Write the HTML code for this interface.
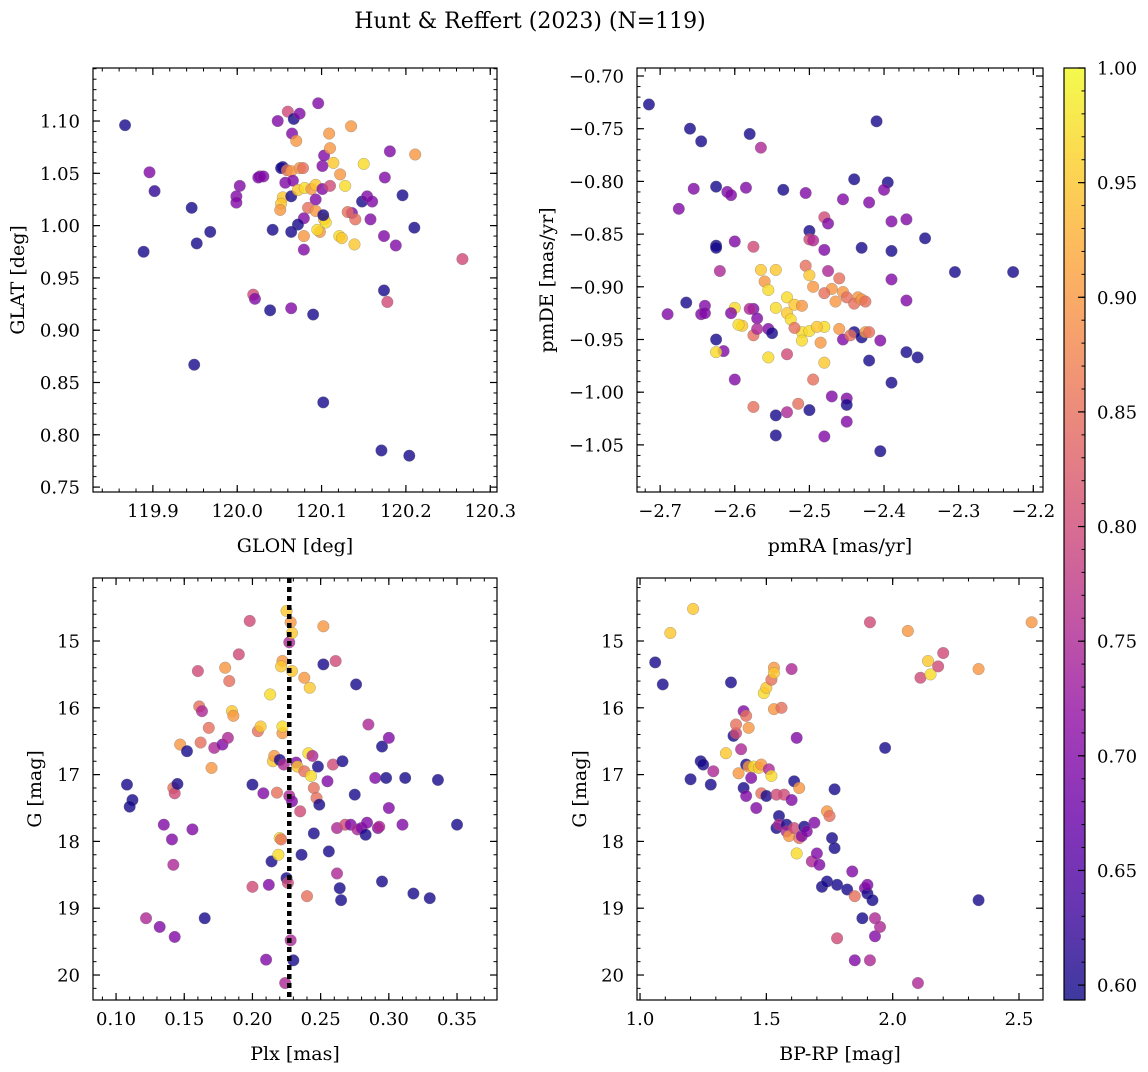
<!DOCTYPE html>
<html><head><meta charset="utf-8"><style>
body{margin:0;background:#fff;}
svg text{font-family:"DejaVu Serif","Liberation Serif",serif;fill:#000;}
</style></head><body>
<svg id="fig" width="1148" height="1067" viewBox="0 0 1148 1067" xmlns="http://www.w3.org/2000/svg">
<defs><linearGradient id="cbg" x1="0" y1="1" x2="0" y2="0">
<stop offset="0" stop-color="#0d0887"/><stop offset="0.1" stop-color="#41049d"/><stop offset="0.2" stop-color="#6a00a8"/><stop offset="0.3" stop-color="#8f0da4"/><stop offset="0.4" stop-color="#b12a90"/><stop offset="0.5" stop-color="#cc4778"/><stop offset="0.6" stop-color="#e16462"/><stop offset="0.7" stop-color="#f2844b"/><stop offset="0.8" stop-color="#fca636"/><stop offset="0.9" stop-color="#fcce25"/><stop offset="1" stop-color="#f0f921"/></linearGradient></defs>
<text x="530" y="28" font-size="22" text-anchor="middle">Hunt &amp; Reffert (2023) (N=119)</text>
</svg>
<script>
// ---- Panel 1: GLON / GLAT ----
const glon=[119.867,119.896,119.902,119.889,119.946,119.952,119.968,119.949,120.003,119.999,119.999,120.027,120.048,120.060,120.067,120.065,120.074,120.096,120.070,120.054,120.052,120.059,120.064,120.074,120.078,120.057,120.066,120.054,120.052,120.051,120.064,120.072,120.080,120.088,120.093,120.101,120.110,120.093,120.084,120.093,120.103,120.105,120.102,120.098,120.095,120.079,120.079,120.072,120.079,120.064,120.042,120.101,120.103,120.110,120.109,120.114,120.122,120.128,120.135,120.150,120.136,120.131,120.140,120.121,120.124,120.139,120.148,120.154,120.160,120.158,120.175,120.181,120.174,120.188,120.196,120.210,120.211,120.174,120.178,120.019,120.021,120.039,120.064,120.090,120.102,120.171,120.204,120.267,120.025,120.031];
const glat=[1.096,1.051,1.033,0.975,1.017,0.983,0.994,0.867,1.038,1.028,1.022,1.047,1.100,1.109,1.102,1.088,1.107,1.117,1.081,1.056,1.055,1.053,1.052,1.055,1.055,1.041,1.043,1.027,1.021,1.015,1.028,1.034,1.036,1.035,1.039,1.035,1.038,1.025,1.017,1.014,1.006,1.003,1.010,0.994,0.996,1.007,0.990,1.001,0.977,0.994,0.996,1.057,1.067,1.074,1.088,1.060,1.049,1.038,1.095,1.059,1.012,1.013,1.006,0.990,0.988,0.982,1.023,1.028,1.023,1.006,1.046,1.071,0.990,0.981,1.029,0.998,1.068,0.938,0.927,0.934,0.930,0.919,0.921,0.915,0.831,0.785,0.780,0.968,1.046,1.047];
const prob1=[.6,.7,.62,.6,.6,.6,.6,.6,.7,.7,.7,.7,.7,.8,.6,.7,.7,.7,.9,.6,.6,.85,.9,.9,.85,.7,.7,.95,.95,.9,.6,.95,.97,.9,.95,.7,.8,.7,.85,.9,.95,.97,.6,.9,.97,.7,.9,.6,.7,.6,.6,.7,.7,.9,.9,.95,.9,.97,.9,.97,.7,.85,.85,.97,.95,.95,.6,.7,.7,.7,.7,.7,.7,.7,.6,.6,.9,.6,.8,.8,.7,.6,.7,.6,.6,.6,.6,.8,.7,.7];
// ---- Panel 2: pmRA / pmDE ----
const pmra=[-2.715,-2.66,-2.645,-2.58,-2.565,-2.535,-2.655,-2.675,-2.625,-2.61,-2.605,-2.585,-2.41,-2.395,-2.40,-2.44,-2.42,-2.505,-2.455,-2.48,-2.475,-2.50,-2.50,-2.495,-2.60,-2.625,-2.625,-2.575,-2.48,-2.43,-2.39,-2.37,-2.39,-2.345,-2.305,-2.227,-2.62,-2.565,-2.545,-2.56,-2.555,-2.505,-2.50,-2.495,-2.475,-2.46,-2.47,-2.455,-2.45,-2.435,-2.44,-2.465,-2.48,-2.39,-2.53,-2.52,-2.51,-2.545,-2.53,-2.525,-2.60,-2.575,-2.58,-2.57,-2.59,-2.595,-2.605,-2.645,-2.665,-2.64,-2.64,-2.69,-2.625,-2.615,-2.625,-2.60,-2.575,-2.57,-2.555,-2.55,-2.51,-2.50,-2.51,-2.485,-2.48,-2.46,-2.44,-2.455,-2.445,-2.43,-2.425,-2.52,-2.49,-2.48,-2.495,-2.555,-2.53,-2.575,-2.515,-2.50,-2.53,-2.545,-2.47,-2.45,-2.45,-2.45,-2.48,-2.545,-2.405,-2.42,-2.39,-2.37,-2.355,-2.37,-2.405,-2.43,-2.425,-2.42];
const pmde=[-0.727,-0.750,-0.762,-0.755,-0.768,-0.808,-0.807,-0.826,-0.805,-0.810,-0.813,-0.806,-0.743,-0.801,-0.808,-0.798,-0.820,-0.811,-0.817,-0.834,-0.840,-0.847,-0.855,-0.856,-0.857,-0.861,-0.863,-0.862,-0.865,-0.863,-0.866,-0.836,-0.838,-0.854,-0.886,-0.886,-0.885,-0.884,-0.884,-0.895,-0.903,-0.880,-0.889,-0.900,-0.885,-0.892,-0.902,-0.905,-0.910,-0.910,-0.916,-0.914,-0.906,-0.893,-0.910,-0.917,-0.918,-0.920,-0.925,-0.931,-0.920,-0.921,-0.921,-0.930,-0.937,-0.936,-0.925,-0.926,-0.915,-0.918,-0.925,-0.926,-0.950,-0.961,-0.962,-0.988,-0.946,-0.940,-0.940,-0.944,-0.943,-0.942,-0.951,-0.953,-0.938,-0.940,-0.943,-0.950,-0.946,-0.948,-0.943,-0.939,-0.938,-0.972,-0.988,-0.967,-0.964,-1.014,-1.011,-1.017,-1.019,-1.022,-1.004,-1.006,-1.012,-1.028,-1.042,-1.041,-1.056,-0.970,-0.991,-0.962,-0.967,-0.913,-0.951,-0.912,-0.914,-0.943];
const prob2=[.6,.6,.6,.6,.75,.6,.7,.7,.6,.7,.7,.7,.6,.6,.7,.6,.7,.7,.7,.8,.7,.6,.8,.75,.7,.6,.6,.8,.7,.6,.6,.7,.7,.6,.6,.6,.75,.95,.95,.9,.97,.85,.95,.9,.75,.85,.9,.9,.85,.9,.85,.9,.85,.7,.97,.95,.9,.97,.95,.97,.97,.7,.75,.7,.95,.97,.7,.7,.6,.7,.7,.7,.6,.7,.97,.7,.85,.75,.7,.6,.97,.97,.97,.9,.97,.9,.6,.7,.85,.6,.9,.85,.95,.95,.85,.97,.8,.85,.85,.6,.75,.6,.7,.7,.6,.7,.7,.6,.6,.6,.6,.6,.6,.7,.7,.9,.85,.85];
// ---- Panel 3: Plx / G ----
const plx=[0.108,0.112,0.110,0.122,0.132,0.135,0.141,0.142,0.143,0.142,0.143,0.145,0.147,0.152,0.156,0.160,0.161,0.162,0.163,0.165,0.168,0.170,0.172,0.178,0.180,0.182,0.183,0.185,0.186,0.190,0.198,0.200,0.200,0.204,0.206,0.208,0.210,0.212,0.213,0.214,0.215,0.216,0.218,0.219,0.220,0.220,0.221,0.222,0.223,0.222,0.221,0.222,0.224,0.225,0.225,0.226,0.227,0.227,0.228,0.229,0.229,0.229,0.228,0.230,0.232,0.233,0.235,0.236,0.238,0.238,0.240,0.241,0.242,0.243,0.245,0.245,0.244,0.247,0.248,0.249,0.252,0.252,0.255,0.256,0.259,0.261,0.262,0.262,0.264,0.265,0.266,0.268,0.272,0.275,0.276,0.277,0.280,0.283,0.284,0.285,0.290,0.292,0.293,0.295,0.295,0.298,0.300,0.300,0.310,0.312,0.318,0.330,0.336,0.350];
const gmag3=[17.15,17.38,17.48,19.15,19.28,17.75,17.97,18.35,19.43,17.20,17.28,17.14,16.55,16.65,17.82,15.45,15.98,16.52,16.05,19.15,16.30,16.90,16.60,16.55,15.40,16.45,15.60,16.05,16.12,15.20,14.70,17.15,18.68,16.35,16.28,17.28,19.77,18.65,15.80,18.30,16.80,16.72,17.27,18.20,16.78,17.95,17.97,16.38,16.85,15.30,15.38,16.28,20.12,18.55,14.55,18.62,15.02,17.32,14.72,14.88,17.40,15.45,19.48,19.78,16.82,16.88,17.55,18.20,15.55,16.95,18.82,16.68,15.70,17.02,17.20,17.88,16.72,17.35,16.88,17.45,14.78,15.35,17.10,18.15,16.85,15.30,18.48,17.80,18.70,18.88,16.80,17.75,17.75,17.30,15.65,17.82,17.80,17.90,17.72,16.25,17.05,17.80,17.78,16.58,18.60,17.05,16.45,17.50,17.75,17.05,18.78,18.85,17.08,17.75];
const prob3=[.6,.6,.6,.75,.7,.7,.7,.75,.7,.85,.8,.6,.9,.6,.7,.8,.85,.85,.75,.6,.85,.9,.75,.7,.9,.75,.85,.95,.9,.8,.8,.6,.8,.85,.95,.7,.7,.7,.97,.6,.95,.9,.85,.97,.6,.97,.85,.9,.75,.9,.95,.97,.75,.6,.95,.8,.75,.75,.9,.95,.7,.95,.75,.6,.7,.95,.8,.6,.9,.85,.85,.97,.95,.97,.85,.6,.75,.85,.6,.6,.9,.6,.7,.6,.8,.8,.75,.75,.6,.6,.6,.8,.7,.6,.6,.75,.7,.6,.7,.75,.7,.7,.75,.6,.6,.6,.7,.7,.7,.6,.6,.6,.6,.6];
const plxLine=[0.227];
// ---- Panel 4: BP-RP / G ----
const bprp=[1.06,1.09,1.12,1.21,1.20,1.24,1.25,1.28,1.29,1.34,1.36,1.37,1.38,1.38,1.39,1.40,1.41,1.42,1.42,1.41,1.42,1.43,1.43,1.44,1.45,1.46,1.47,1.48,1.48,1.49,1.50,1.51,1.52,1.50,1.52,1.53,1.53,1.53,1.54,1.54,1.55,1.55,1.56,1.57,1.58,1.58,1.59,1.60,1.60,1.61,1.61,1.62,1.62,1.63,1.63,1.64,1.65,1.66,1.68,1.69,1.70,1.71,1.72,1.74,1.74,1.75,1.76,1.77,1.77,1.78,1.78,1.82,1.84,1.85,1.85,1.88,1.89,1.90,1.90,1.91,1.91,1.92,1.93,1.93,1.95,1.97,2.06,2.10,2.11,2.14,2.15,2.18,2.20,2.34,2.34,2.55];
const gmag4=[15.32,15.65,14.88,14.52,17.07,16.80,16.85,17.15,16.95,16.68,15.62,16.42,16.38,16.25,16.98,16.62,16.05,16.12,16.85,17.20,17.32,16.88,16.30,17.05,16.88,17.50,16.90,16.85,17.28,15.78,15.70,16.92,17.02,17.32,15.58,15.40,15.48,16.02,17.30,17.80,17.62,17.75,16.00,17.30,17.75,17.85,17.92,17.38,15.42,17.10,17.80,16.45,18.18,17.95,17.20,17.92,17.78,17.85,18.30,17.72,18.18,18.35,18.68,18.60,17.55,17.62,17.95,18.10,17.22,18.65,19.45,18.72,18.45,18.82,19.78,19.15,18.70,18.78,18.65,14.72,19.78,18.88,19.15,19.42,19.28,16.60,14.85,20.12,15.55,15.30,15.50,15.38,15.18,18.88,15.42,14.72];
const prob4=[.6,.6,.95,.95,.6,.6,.6,.6,.75,.95,.6,.6,.8,.85,.9,.75,.7,.85,.6,.6,.7,.9,.9,.7,.97,.7,.95,.9,.85,.97,.95,.75,.97,.6,.85,.9,.95,.9,.8,.6,.6,.75,.85,.8,.6,.75,.9,.7,.75,.6,.8,.7,.97,.85,.9,.7,.6,.7,.75,.7,.7,.7,.6,.6,.9,.85,.6,.6,.6,.6,.8,.6,.7,.85,.7,.6,.7,.6,.7,.8,.75,.6,.75,.7,.75,.6,.9,.75,.8,.95,.97,.8,.8,.6,.9,.9];
// ---- Colorbar ----
const cbTicks=[0.60,0.65,0.70,0.75,0.80,0.85,0.90,0.95,1.00];
const cbMin=0.5935, cbMax=1.0;

const NS="http://www.w3.org/2000/svg";
const svg=document.getElementById('fig');
function mk(tag,attrs,parent){const e=document.createElementNS(NS,tag);for(const k in attrs)e.setAttribute(k,attrs[k]);(parent||svg).appendChild(e);return e;}
const stops=[[13,8,135],[65,4,157],[106,0,168],[143,13,164],[177,42,144],[204,71,120],[225,100,98],[242,132,75],[252,166,54],[252,206,37],[240,249,33]];
function plasma(v){let t=(v-cbMin)/(cbMax-cbMin);t=Math.max(0,Math.min(1,t))*10;const i=Math.min(9,Math.floor(t)),f=t-i;const a=stops[i],b=stops[i+1];return 'rgb('+[0,1,2].map(j=>Math.round(a[j]+(b[j]-a[j])*f)).join(',')+')';}

const TF=18, LF=19;
function panel(c){
  const g=mk('g',{});
  
  
  const sx=v=>c.x0+(v-c.xmin)/(c.xmax-c.xmin)*(c.x1-c.x0);
  const sy=v=>c.y0+(v-c.ytop)/(c.ybot-c.ytop)*(c.y1-c.y0);
  const pg=mk('g',{},g);
  
  
  for(let i=0;i<c.xs.length;i++){
    const p=mk('circle',{cx:sx(c.xs[i]),cy:sy(c.ys[i]),r:5.8,fill:plasma(c.cs[i]),'fill-opacity':0.8,stroke:'#777','stroke-opacity':0.6,'stroke-width':0.5},pg);
    
    
  }
  if(c.vline){for(const v of c.vline){const l=mk('line',{x1:sx(v),x2:sx(v),y1:c.y0,y2:c.y1,stroke:'#000','stroke-width':4.5,'stroke-dasharray':'5 4'},g);
    
    }}
  const fr=mk('rect',{x:c.x0,y:c.y0,width:c.x1-c.x0,height:c.y1-c.y0,fill:'none',stroke:'#000','stroke-width':1.2},g);
  
  
  const xlo=Math.min(c.xmin,c.xmax),xhi=Math.max(c.xmin,c.xmax);
  for(let v=Math.ceil(xlo/c.xminor-1e-6)*c.xminor;v<=xhi+1e-9;v+=c.xminor){const x=sx(v);
    mk('line',{x1:x,x2:x,y1:c.y1,y2:c.y1-3.5,stroke:'#000','stroke-width':1},g);mk('line',{x1:x,x2:x,y1:c.y0,y2:c.y0+3.5,stroke:'#000','stroke-width':1},g);}
  const ylo=Math.min(c.ytop,c.ybot),yhi=Math.max(c.ytop,c.ybot);
  for(let v=Math.ceil(ylo/c.yminor-1e-6)*c.yminor;v<=yhi+1e-9;v+=c.yminor){const y=sy(v);
    mk('line',{x1:c.x0,x2:c.x0+3.5,y1:y,y2:y,stroke:'#000','stroke-width':1},g);mk('line',{x1:c.x1,x2:c.x1-3.5,y1:y,y2:y,stroke:'#000','stroke-width':1},g);}
  c.xticks.forEach((v,i)=>{const x=sx(v);
    mk('line',{x1:x,x2:x,y1:c.y1,y2:c.y1-7,stroke:'#000','stroke-width':1.2},g);mk('line',{x1:x,x2:x,y1:c.y0,y2:c.y0+7,stroke:'#000','stroke-width':1.2},g);
    const t=mk('text',{x:x,y:c.y1+25,'font-size':TF,'text-anchor':'middle'},g);t.textContent=c.xlabels[i];
    
    });
  c.yticks.forEach((v,i)=>{const y=sy(v);
    mk('line',{x1:c.x0,x2:c.x0+7,y1:y,y2:y,stroke:'#000','stroke-width':1.2},g);mk('line',{x1:c.x1,x2:c.x1-7,y1:y,y2:y,stroke:'#000','stroke-width':1.2},g);
    const t=mk('text',{x:c.x0-13,y:y+6.5,'font-size':TF,'text-anchor':'end'},g);t.textContent=c.ylabels[i];
    
    });
  const xl=mk('text',{x:(c.x0+c.x1)/2,y:c.y1+60,'font-size':LF,'text-anchor':'middle'},g);xl.textContent=c.xlabel;
  
  
  const yx=c.ylabx,yy=(c.y0+c.y1)/2;
  const yl=mk('text',{x:yx,y:yy,'font-size':LF,'text-anchor':'middle',transform:'rotate(-90 '+yx+' '+yy+')'},g);yl.textContent=c.ylabel;
  
  
}
panel({name:'glon-glat-panel',x0:93,x1:497,y0:68,y1:492,xmin:119.829,xmax:120.308,ytop:1.1507,ybot:0.7453,xs:glon,ys:glat,cs:prob1,
  xticks:[119.9,120.0,120.1,120.2,120.3],xlabels:['119.9','120.0','120.1','120.2','120.3'],xminor:0.02,
  yticks:[0.75,0.80,0.85,0.90,0.95,1.00,1.05,1.10],ylabels:['0.75','0.80','0.85','0.90','0.95','1.00','1.05','1.10'],yminor:0.01,xlabel:'GLON [deg]',ylabel:'GLAT [deg]',ylabx:24});
panel({name:'pm-panel',x0:637,x1:1043,y0:68,y1:492,xmin:-2.731,xmax:-2.187,ytop:-0.6924,ybot:-1.0947,xs:pmra,ys:pmde,cs:prob2,
  xticks:[-2.7,-2.6,-2.5,-2.4,-2.3,-2.2],xlabels:['\u22122.7','\u22122.6','\u22122.5','\u22122.4','\u22122.3','\u22122.2'],xminor:0.02,
  yticks:[-0.70,-0.75,-0.80,-0.85,-0.90,-0.95,-1.00,-1.05],ylabels:['\u22120.70','\u22120.75','\u22120.80','\u22120.85','\u22120.90','\u22120.95','\u22121.00','\u22121.05'],yminor:0.01,xlabel:'pmRA [mas/yr]',ylabel:'pmDE [mas/yr]',ylabx:553});
panel({name:'plx-g-panel',x0:93,x1:497,y0:578,y1:1000,xmin:0.0831,xmax:0.3793,ytop:14.057,ybot:20.374,xs:plx,ys:gmag3,cs:prob3,vline:plxLine,
  xticks:[0.10,0.15,0.20,0.25,0.30,0.35],xlabels:['0.10','0.15','0.20','0.25','0.30','0.35'],xminor:0.01,
  yticks:[15,16,17,18,19,20],ylabels:['15','16','17','18','19','20'],yminor:0.2,xlabel:'Plx [mas]',ylabel:'G [mag]',ylabx:41});
panel({name:'cmd-panel',x0:637,x1:1043,y0:578,y1:1000,xmin:0.988,xmax:2.595,ytop:14.057,ybot:20.374,xs:bprp,ys:gmag4,cs:prob4,
  xticks:[1.0,1.5,2.0,2.5],xlabels:['1.0','1.5','2.0','2.5'],xminor:0.1,
  yticks:[15,16,17,18,19,20],ylabels:['15','16','17','18','19','20'],yminor:0.2,xlabel:'BP-RP [mag]',ylabel:'G [mag]',ylabx:586});
(function(){
  const g=mk('g',{});
  
  
  const x0=1064,x1=1085,y0=68,y1=1000;
  const cy=v=>y1-(v-cbMin)/(cbMax-cbMin)*(y1-y0);
  const r=mk('rect',{x:x0,y:y0,width:x1-x0,height:y1-y0,fill:'url(#cbg)','fill-opacity':0.8},g);
  
  
  mk('rect',{x:x0,y:y0,width:x1-x0,height:y1-y0,fill:'none',stroke:'#000','stroke-width':1.2},g);
  for(let v=0.60;v<=1.0001;v+=0.01){const y=cy(v);mk('line',{x1:x1,x2:x1-3.5,y1:y,y2:y,stroke:'#000','stroke-width':1},g);}
  cbTicks.forEach(v=>{const y=cy(v);mk('line',{x1:x1,x2:x1-7,y1:y,y2:y,stroke:'#000','stroke-width':1.2},g);
    const t=mk('text',{x:x1+12,y:y+6.5,'font-size':TF},g);t.textContent=v.toFixed(2);
    
    });
})();
</script>
</body></html>
